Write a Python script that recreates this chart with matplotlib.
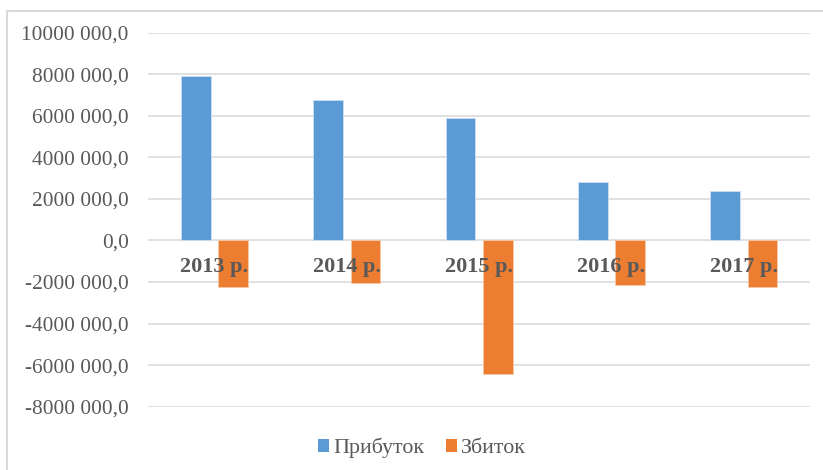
import numpy as np
import matplotlib.pyplot as plt
from matplotlib.patches import Rectangle, Patch
from matplotlib import ticker

plt.rcParams['font.family'] = ['Liberation Serif', 'DejaVu Serif']

years = ['2013 р.', '2014 р.', '2015 р.', '2016 р.', '2017 р.']
profit = [7930000, 6770000, 5890000, 2800000, 2380000]   # Прибуток
loss = [-2230000, -2040000, -6430000, -2120000, -2230000]  # Збиток
series_names = ['Прибуток', 'Збиток']
colors = ['#5B9BD5', '#ED7D31']
grey = '#595959'

fig = plt.figure(figsize=(8.23, 4.70), dpi=100)
# light frame of the chart area (runs off the right and bottom edges)
fig.patches.append(Rectangle((7 / 823, -0.1), 1.2, (470 - 11) / 470 + 0.1,
                             transform=fig.transFigure, fill=False,
                             edgecolor='#d9d9d9', linewidth=1.5))

ax = fig.add_axes([148.3 / 823, 63.3 / 470, (810 - 148.3) / 823, (437.3 - 63.3) / 470])
x = np.arange(len(years))
w = 0.225
off = 0.141
ax.bar(x - off, profit, w, color=colors[0], edgecolor='#cfe0f1', linewidth=0.6, zorder=2)
ax.bar(x + off, loss, w, color=colors[1], edgecolor='#f6c8a8', linewidth=0.6, zorder=2)

ax.set_xlim(-0.5, len(years) - 0.5)
ax.set_ylim(-8000000, 10000000)
ax.set_yticks(np.arange(-8000000, 10000001, 2000000))


def fmt(v, pos):
    if v == 0:
        return '0,0'
    return f'{int(v / 1000)} 000,0'


ax.yaxis.set_major_formatter(ticker.FuncFormatter(fmt))
ax.grid(axis='y', color='#d9d9d9', linewidth=1.1, zorder=0)
ax.set_axisbelow(True)
for s in ax.spines.values():
    s.set_visible(False)
ax.tick_params(axis='y', length=0, pad=14, labelsize=15.4, labelcolor=grey)
ax.set_xticks([])

for i, lab in enumerate(years):
    ax.annotate(lab, (i, 0), xytext=(0, -19.2), textcoords='offset points',
                ha='center', va='center', fontsize=16, fontweight='bold',
                color=grey, zorder=5)

handles = [Patch(facecolor=c, edgecolor='none') for c in colors]
fig.legend(handles, series_names, loc='center', bbox_to_anchor=(422 / 823, 22 / 470),
           ncol=2, frameon=False, fontsize=15.8, labelcolor=grey,
           handlelength=0.5, handleheight=0.5, handletextpad=0.2,
           columnspacing=1.0)

fig.savefig('out.png', dpi=100)
